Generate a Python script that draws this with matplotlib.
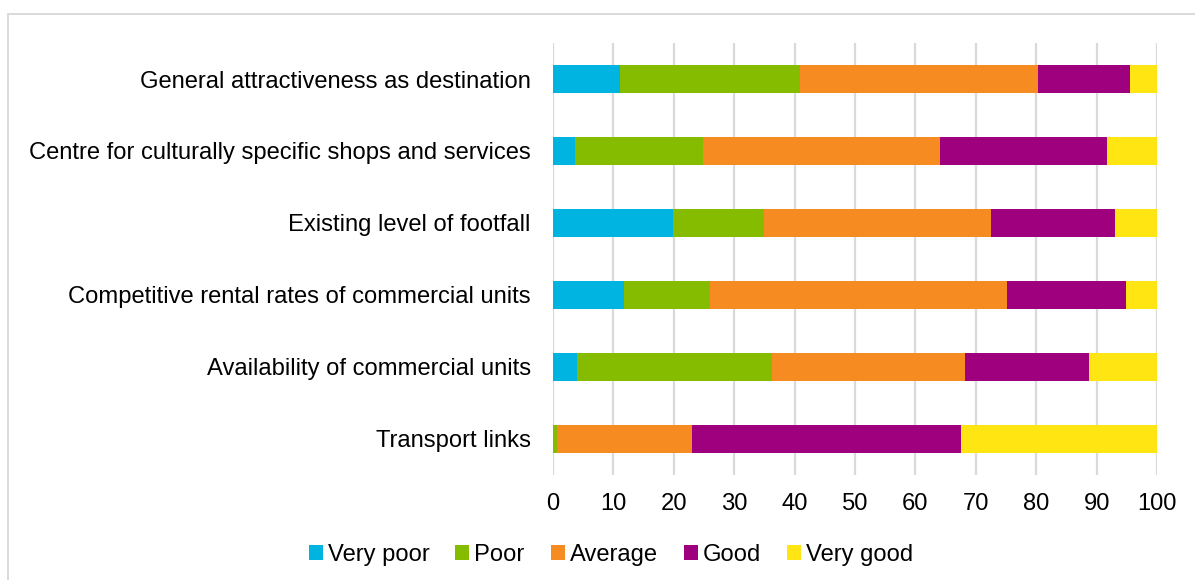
import matplotlib
matplotlib.use("Agg")
import matplotlib.pyplot as plt
from matplotlib.lines import Line2D
import numpy as np

plt.rcParams['font.family'] = ['Liberation Sans', 'DejaVu Sans']

categories = [
    "General attractiveness as destination",
    "Centre for culturally specific shops and services",
    "Existing level of footfall",
    "Competitive rental rates of commercial units",
    "Availability of commercial units",
    "Transport links",
]
series_names = ["Very poor", "Poor", "Average", "Good", "Very good"]
very_poor = [11.1, 3.7, 19.9, 11.8, 4.0, 0.0]
poor = [29.8, 21.1, 15.1, 14.2, 32.2, 0.7]
average = [39.4, 39.2, 37.5, 49.1, 32.0, 22.3]
good = [15.2, 27.8, 20.6, 19.7, 20.6, 44.6]
very_good = [4.5, 8.2, 6.9, 5.2, 11.2, 32.4]
x_ticks = [0, 10, 20, 30, 40, 50, 60, 70, 80, 90, 100]

colors = ["#00B4E1", "#86BC00", "#F58B21", "#9E007E", "#FFE512"]
grid_color = "#D9D9D9"

fig = plt.figure(figsize=(11.95, 5.8), dpi=100)
ax = fig.add_axes([553 / 1195, 1 - 475 / 580, (1157 - 553) / 1195, 432 / 580])

ypos = np.arange(len(categories))[::-1]
left = np.zeros(len(categories))
for name, vals, col in zip(series_names,
                           [very_poor, poor, average, good, very_good],
                           colors):
    vals = np.array(vals)
    ax.barh(ypos, vals, left=left, height=0.39, color=col, label=name,
            zorder=3)
    left += vals

ax.set_xlim(0, 100)
ax.set_ylim(-0.5, len(categories) - 0.5)
ax.set_xticks(x_ticks)
ax.set_yticks(ypos)
ax.set_yticklabels(categories)
ax.tick_params(axis='both', length=0, labelsize=17.1, colors="#000000")
ax.tick_params(axis='y', pad=16)
ax.tick_params(axis='x', pad=13)
ax.xaxis.grid(True, color=grid_color, linewidth=1.6, zorder=0)
ax.set_axisbelow(True)
for s in ax.spines.values():
    s.set_visible(False)

fig.legend(loc='center', bbox_to_anchor=(611 / 1195, 1 - 555 / 580),
           ncol=5, frameon=False, fontsize=17.1,
           handlelength=0.59, handleheight=0.59, handletextpad=0.21,
           columnspacing=1.1, borderaxespad=0)

# chart area border (top and left edges)
fig.add_artist(Line2D([7.5 / 1195, 1.0], [1 - 14 / 580, 1 - 14 / 580],
                      transform=fig.transFigure, color=grid_color, lw=1.4))
fig.add_artist(Line2D([7.5 / 1195, 7.5 / 1195], [0.0, 1 - 14 / 580],
                      transform=fig.transFigure, color=grid_color, lw=1.4))

fig.savefig("out.png", dpi=100, facecolor="white")
